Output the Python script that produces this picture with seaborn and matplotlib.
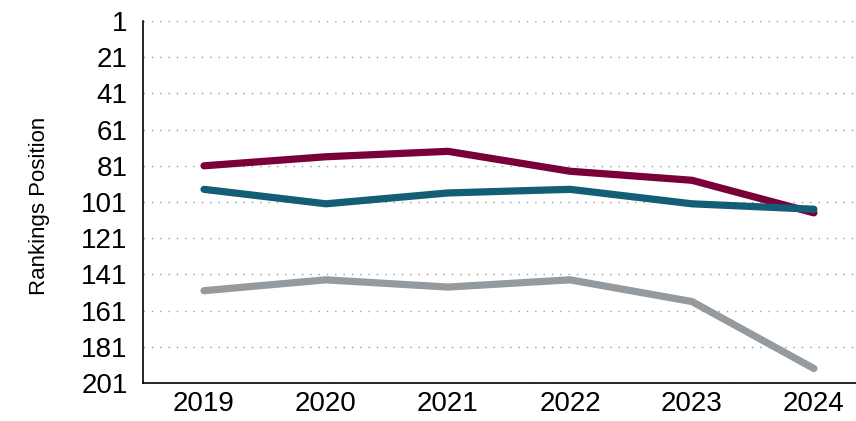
import numpy as np
import pandas as pd
import matplotlib
matplotlib.use("Agg")
import matplotlib.pyplot as plt
from matplotlib.ticker import FixedLocator
import seaborn as sns

# Data (lower rank value = better)
years = ["2019", "2020", "2021", "2022", "2023", "2024"]
series_a = [81, 76, 73, 84, 89, 107]     # maroon
series_b = [94, 102, 96, 94, 102, 105]   # teal
series_c = [150, 144, 148, 144, 156, 193]  # grey
colors = {"A": "#7A0039", "B": "#135E75", "C": "#959A9E"}
y_ticks = [1, 21, 41, 61, 81, 101, 121, 141, 161, 181, 201]

df = pd.DataFrame({
    "x": list(range(len(years))) * 3,
    "rank": series_a + series_b + series_c,
    "series": ["A"] * 6 + ["B"] * 6 + ["C"] * 6,
})

sns.set_style("white")
plt.rcParams["font.family"] = ["Liberation Sans", "DejaVu Sans"]
plt.rcParams["text.color"] = "black"
plt.rcParams["xtick.labelcolor"] = "black"
plt.rcParams["ytick.labelcolor"] = "black"
plt.rcParams["axes.labelcolor"] = "black"

fig = plt.figure(figsize=(8.56, 4.21), dpi=100)
ax = fig.add_axes([143 / 856, 1 - 383 / 421, 1 - 143 / 856, (383 - 21) / 421])

sns.lineplot(data=df, x="x", y="rank", hue="series", palette=colors,
             linewidth=5.2, legend=False, ax=ax, solid_capstyle="round")

ax.set_ylim(201, 1)
ax.set_yticks(y_ticks)
ax.set_xlim(-0.5, 5.345)
ax.set_xticks(range(len(years)))
ax.set_xticklabels(years)
ax.xaxis.set_minor_locator(FixedLocator([0.5, 1.5, 2.5, 3.5, 4.5]))

ax.tick_params(axis="x", which="major", length=0, labelsize=20, pad=6)
ax.tick_params(axis="x", which="minor", length=10, width=1, direction="in", color="black")
ax.tick_params(axis="y", length=0, labelsize=20, pad=11)

ax.grid(axis="y", linestyle=(0, (1, 5)), color="#999999", linewidth=1)
ax.grid(axis="x", visible=False)
ax.set_axisbelow(True)

for side in ["top", "right"]:
    ax.spines[side].set_visible(False)
for side in ["left", "bottom"]:
    ax.spines[side].set_color("black")
    ax.spines[side].set_linewidth(1.2)

ax.set_xlabel("")
ax.set_ylabel("Rankings Position", fontsize=16)
ax.yaxis.set_label_coords(-0.131, 0.49)

plt.savefig("out.png", dpi=100)
plt.close()
